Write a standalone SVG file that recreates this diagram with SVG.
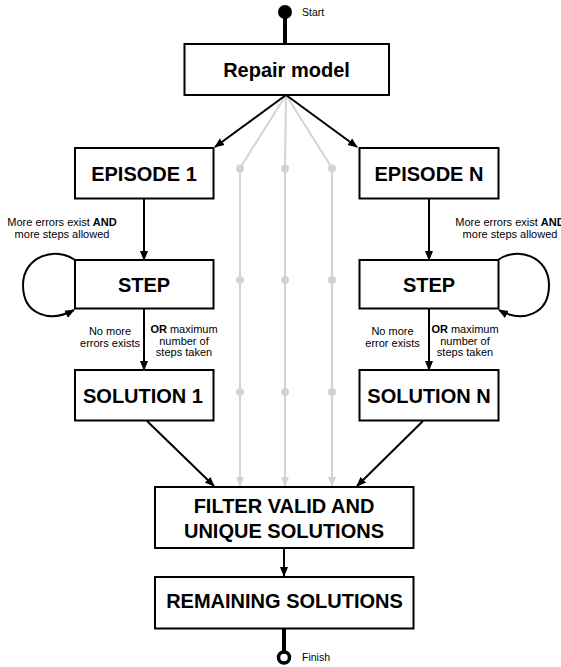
<svg xmlns="http://www.w3.org/2000/svg" width="561" height="667" viewBox="0 0 561 667">
  <style>
    .box { fill: #ffffff; stroke: #000000; stroke-width: 2; }
    .title { font-family: "Liberation Sans", Arial, Helvetica, sans-serif; font-weight: bold; font-size: 20px; fill: #000000; text-anchor: middle; }
    .label { font-family: "Liberation Sans", Arial, Helvetica, sans-serif; font-size: 11px; fill: #000000; text-anchor: middle; }
    .small { font-family: "Liberation Sans", Arial, Helvetica, sans-serif; font-size: 10.5px; fill: #000000; }
    .edge { fill: none; stroke: #000000; stroke-width: 2; }
    .ghost { fill: none; stroke: #d3d3d3; stroke-width: 2; }
    .ghost-dot { fill: #d3d3d3; }
  </style>
  <defs>
    <marker id="arrow" markerUnits="userSpaceOnUse" markerWidth="10" markerHeight="10" viewBox="0 0 10 10" refX="9" refY="5" orient="auto">
      <path d="M0,1 L10,5 L0,9 Z" fill="#000000"/>
    </marker>
    <marker id="arrow-ghost" markerUnits="userSpaceOnUse" markerWidth="10" markerHeight="10" viewBox="0 0 10 10" refX="9" refY="5" orient="auto">
      <path d="M0,1 L10,5 L0,9 Z" fill="#d3d3d3"/>
    </marker>
  </defs>

  <rect width="561" height="667" fill="#ffffff"/>

  <!-- connectors -->
  <g id="connectors">
    <!-- hidden intermediate episodes, drawn faint -->
    <path class="ghost" d="M286,95 L240,168 L240,486" marker-end="url(#arrow-ghost)"/>
    <path class="ghost" d="M286,95 L285,168 L285,486" marker-end="url(#arrow-ghost)"/>
    <path class="ghost" d="M286,95 L332,168 L332,486" marker-end="url(#arrow-ghost)"/>
    <circle class="ghost-dot" cx="240" cy="168.5" r="4"/>
    <circle class="ghost-dot" cx="285" cy="168.5" r="4"/>
    <circle class="ghost-dot" cx="332" cy="168.5" r="4"/>
    <circle class="ghost-dot" cx="240" cy="280" r="4"/>
    <circle class="ghost-dot" cx="285" cy="280" r="4"/>
    <circle class="ghost-dot" cx="332" cy="280" r="4"/>
    <circle class="ghost-dot" cx="240" cy="392" r="4"/>
    <circle class="ghost-dot" cx="285" cy="392" r="4"/>
    <circle class="ghost-dot" cx="332" cy="392" r="4"/>

    <!-- start / finish terminals -->
    <line x1="285" y1="12" x2="285" y2="44" stroke="#000000" stroke-width="4"/>
    <circle cx="285" cy="12" r="7" fill="#000000"/>
    <line x1="284" y1="628" x2="284" y2="652" stroke="#000000" stroke-width="4"/>
    <circle cx="284" cy="657.5" r="5.5" fill="#ffffff" stroke="#000000" stroke-width="3.5"/>

    <!-- fan out to episodes -->
    <path class="edge" d="M286,95 L215,147" marker-end="url(#arrow)"/>
    <path class="edge" d="M286,95 L357,147" marker-end="url(#arrow)"/>

    <!-- left episode chain -->
    <path class="edge" d="M144,199 L144,260" marker-end="url(#arrow)"/>
    <path class="edge" d="M75,260 C56,246 23,256 23,285 C23,315 50,323 74,310" marker-end="url(#arrow)"/>
    <path class="edge" d="M144,309 L144,370" marker-end="url(#arrow)"/>
    <path class="edge" d="M147,421 L214,486" marker-end="url(#arrow)"/>

    <!-- right episode chain -->
    <path class="edge" d="M429,199 L429,260" marker-end="url(#arrow)"/>
    <path class="edge" d="M498,260 C517,246 549,256 549,285 C549,315 522,323 499,310" marker-end="url(#arrow)"/>
    <path class="edge" d="M429,309 L429,370" marker-end="url(#arrow)"/>
    <path class="edge" d="M423,421 L357,486" marker-end="url(#arrow)"/>

    <!-- filter to remaining -->
    <path class="edge" d="M284,548 L284,576" marker-end="url(#arrow)"/>
  </g>

  <!-- edge labels -->
  <g id="labels">
    <text class="small" x="302" y="16">Start</text>
    <text class="small" x="302" y="661">Finish</text>

    <text class="label" x="62" y="226">More errors exist <tspan font-weight="bold">AND</tspan></text>
    <text class="label" x="62" y="238">more steps allowed</text>
    <text class="label" x="110" y="335">No more</text>
    <text class="label" x="110" y="346.5">errors exists</text>
    <text class="label" x="184" y="333"><tspan font-weight="bold">OR</tspan> maximum</text>
    <text class="label" x="184" y="344.5">number of</text>
    <text class="label" x="184" y="356">steps taken</text>

    <text class="label" x="510" y="226">More errors exist <tspan font-weight="bold">AND</tspan></text>
    <text class="label" x="510" y="238">more steps allowed</text>
    <text class="label" x="392.5" y="335">No more</text>
    <text class="label" x="392.5" y="346.5">error exists</text>
    <text class="label" x="465" y="333"><tspan font-weight="bold">OR</tspan> maximum</text>
    <text class="label" x="465" y="344.5">number of</text>
    <text class="label" x="465" y="356">steps taken</text>
  </g>

  <!-- nodes -->
  <g id="repair-model">
    <rect class="box" x="184.5" y="44" width="204.5" height="51"/>
    <text class="title" x="286.5" y="77" font-size="21">Repair model</text>
  </g>
  <g id="episode-1">
    <rect class="box" x="75" y="148" width="138.5" height="50.5"/>
    <text class="title" x="144" y="180.5">EPISODE 1</text>
  </g>
  <g id="step-1">
    <rect class="box" x="75" y="260" width="138.5" height="48.5"/>
    <text class="title" x="144" y="291.5">STEP</text>
  </g>
  <g id="solution-1">
    <rect class="box" x="75" y="370" width="138.5" height="50.5"/>
    <text class="title" x="143" y="402.5">SOLUTION 1</text>
  </g>
  <g id="episode-n">
    <rect class="box" x="359.5" y="148" width="139" height="50.5"/>
    <text class="title" x="429" y="180.5">EPISODE N</text>
  </g>
  <g id="step-n">
    <rect class="box" x="359.5" y="260" width="139" height="48.5"/>
    <text class="title" x="429" y="291.5">STEP</text>
  </g>
  <g id="solution-n">
    <rect class="box" x="359.5" y="370" width="139" height="50.5"/>
    <text class="title" x="429" y="402.5">SOLUTION N</text>
  </g>
  <g id="filter">
    <rect class="box" x="155" y="487" width="258.5" height="61"/>
    <text class="title" x="284" y="513">FILTER VALID AND</text>
    <text class="title" x="284" y="538">UNIQUE SOLUTIONS</text>
  </g>
  <g id="remaining">
    <rect class="box" x="155" y="577" width="258.5" height="51.5"/>
    <text class="title" x="284.5" y="608" font-size="20.5">REMAINING SOLUTIONS</text>
  </g>
</svg>
